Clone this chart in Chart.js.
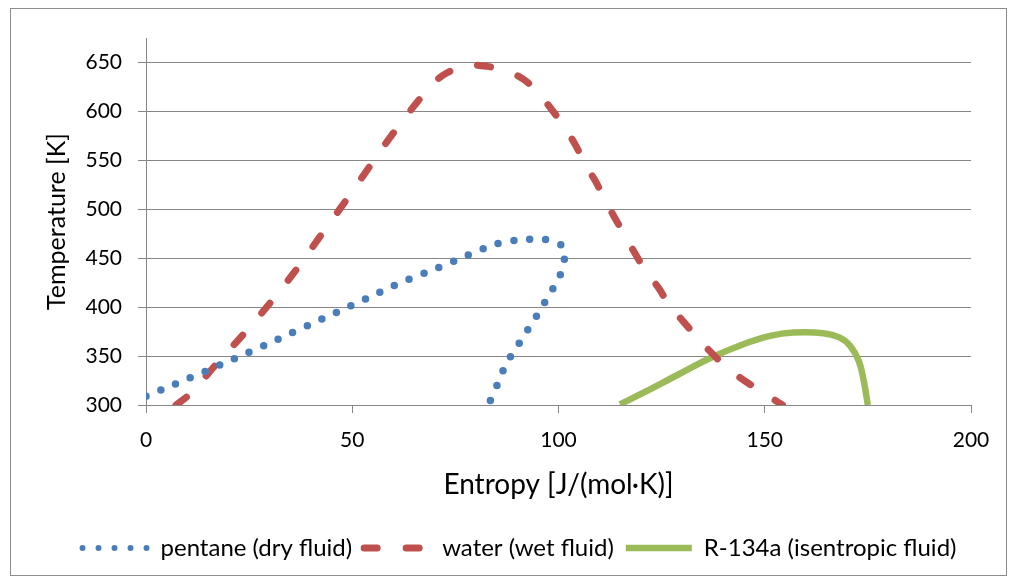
<!DOCTYPE html>
<html>
<head>
<meta charset="utf-8">
<script src="https://cdn.jsdelivr.net/npm/chart.js@4/dist/chart.umd.min.js"></script>
<style>
  html, body { margin: 0; padding: 0; background: #fff; }
  #wrap { position: relative; width: 1015px; height: 582px; }
</style>
</head>
<body>
<div id="wrap"><canvas id="tsChart"></canvas></div>
<script>
// entropy [J/(mol K)] and temperature [K]
var pentaneS = [0, 11.2, 25.3, 36, 50, 60.6, 64.2, 71.4, 78.5, 85.8, 93.6, 97.4, 100.9, 101.5, 101.3, 100.2, 98.3, 96.3, 94.3, 92.2, 90.1, 88, 86.3, 84.8, 83.0];
var pentaneT = [309, 328.7, 354.5, 375, 402, 422.8, 429.3, 441.2, 453.8, 465.5, 469.5, 468.6, 462.7, 455, 446.4, 430.7, 416.4, 402.3, 388.3, 374.7, 360.7, 346.8, 332.7, 317.1, 300];

var waterS = [7.3, 10.8, 17.5, 24.2, 30.6, 36.8, 42.6, 48.3, 54.1, 59.8, 65.9, 69.5, 73, 77.7, 82.7, 87.8, 92, 95.7, 98.7, 101.7, 104.2, 106.4, 109, 111.3, 113.5, 118.5, 121.4, 124.2, 127, 129.9, 133.5, 136.7, 140.4, 144, 148.7, 152.5, 154.3];
var waterT = [300, 312, 344, 375, 407, 440.5, 474.7, 508, 543, 577, 610.4, 628, 639.5, 646.6, 646, 640.5, 631.3, 615.5, 600, 582, 565, 546, 528.5, 508.8, 492.4, 455.3, 435.4, 420, 401, 387, 369.6, 355, 340, 328, 315, 304.8, 300];

var r134aS = [114.9, 120.6, 128.7, 136.7, 144.8, 151.3, 156.9, 164.2, 168.2, 170.7, 172.8, 174, 175];
var r134aT = [300.7, 312.6, 330.4, 347.8, 362.1, 370.6, 374, 373.4, 368.9, 360.4, 345, 324.6, 300];

var seriesNames = ['pentane (dry fluid)', 'water (wet fluid)', 'R-134a (isentropic fluid)'];
var xTicks = [0, 50, 100, 150, 200];
var yTicks = [300, 350, 400, 450, 500, 550, 600, 650];

function pts(xs, ys) {
  var out = [];
  for (var i = 0; i < xs.length; i++) out.push({x: xs[i], y: ys[i]});
  return out;
}

var gridCol = '#878787';
Chart.defaults.font.family = 'Lato, "Liberation Sans", sans-serif';
Chart.defaults.color = '#000';

// outer frame like the spreadsheet chart box
var frame = {
  id: 'frame',
  beforeDraw: function(chart) {
    var ctx = chart.ctx;
    ctx.save();
    ctx.strokeStyle = '#8c8c8c';
    ctx.lineWidth = 1;
    ctx.strokeRect(10.5, 8.5, 996, 567);
    ctx.restore();
  }
};

new Chart(document.getElementById('tsChart'), {
  type: 'scatter',
  data: {
    datasets: [
      {
        label: seriesNames[0],
        data: pts(pentaneS, pentaneT),
        showLine: true,
        borderColor: '#4a7ebb',
        backgroundColor: '#4a7ebb',
        borderWidth: 7.5,
        borderDash: [0, 16],
        borderCapStyle: 'round',
        pointRadius: 0,
        tension: 0.4
      },
      {
        label: seriesNames[1],
        data: pts(waterS, waterT),
        showLine: true,
        borderColor: '#c0504d',
        backgroundColor: '#c0504d',
        borderWidth: 7,
        borderDash: [13, 29],
        borderCapStyle: 'round',
        pointRadius: 0,
        tension: 0.4
      },
      {
        label: seriesNames[2],
        data: pts(r134aS, r134aT),
        showLine: true,
        borderColor: '#9bbb59',
        backgroundColor: '#9bbb59',
        borderWidth: 6.5,
        borderCapStyle: 'butt',
        pointRadius: 0,
        tension: 0.4
      }
    ]
  },
  options: {
    responsive: true,
    maintainAspectRatio: false,
    animation: false,
    layout: { padding: { left: 68, right: 44, top: 38, bottom: 12 } },
    plugins: {
      tooltip: { enabled: false },
      legend: {
        position: 'bottom',
        labels: {
          usePointStyle: true,
          pointStyle: 'line',
          pointStyleWidth: 66,
          padding: 12,
          font: { size: 24 },
          generateLabels: function(chart) {
            var items = Chart.defaults.plugins.legend.labels.generateLabels(chart);
            items.forEach(function(it) {
              var ds = chart.data.datasets[it.datasetIndex];
              it.lineDash = ds.borderDash || [];
              it.lineCap = ds.borderCapStyle;
              it.lineWidth = it.datasetIndex === 0 ? 6 : ds.borderWidth;
              it.strokeStyle = ds.borderColor;
            });
            return items;
          }
        }
      }
    },
    scales: {
      x: {
        type: 'linear',
        min: 0,
        max: 200,
        afterFit: function(s) { s.height = 119; },
        afterBuildTicks: function(s) { s.ticks = xTicks.map(function(v) { return {value: v}; }); },
        ticks: { stepSize: 50, padding: 15, font: { size: 21 } },
        grid: { drawOnChartArea: false, color: gridCol, tickLength: 8 },
        border: { color: gridCol },
        title: { display: true, text: 'Entropy [J/(mol·K)]', font: { size: 28 }, padding: { top: 0, bottom: 22 } }
      },
      y: {
        type: 'linear',
        min: 300,
        max: 675,
        afterFit: function(s) { s.width = 78; },
        afterBuildTicks: function(s) { s.ticks = yTicks.map(function(v) { return {value: v}; }); },
        ticks: { stepSize: 50, padding: 16, font: { size: 21 } },
        grid: { color: gridCol, tickLength: 8 },
        border: { color: gridCol },
        title: { display: true, text: 'Temperature [K]', font: { size: 25 }, padding: { top: -26, bottom: 0 } }
      }
    }
  },
  plugins: [frame]
});
</script>
</body>
</html>
